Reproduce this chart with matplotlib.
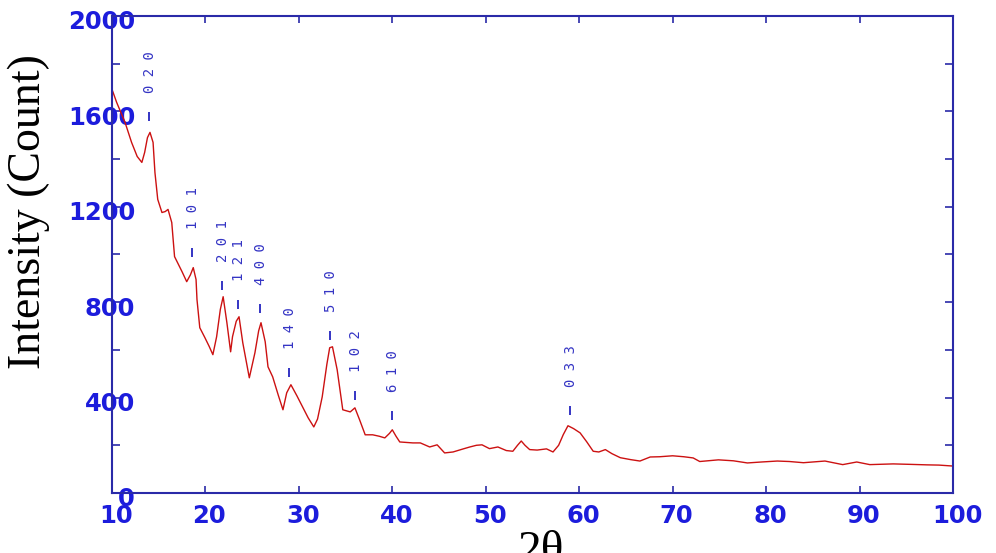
import numpy as np
import matplotlib
matplotlib.use('Agg')
import matplotlib.pyplot as plt
from matplotlib.transforms import ScaledTranslation

# XRD pattern
two_theta = [10.0, 10.5, 11.4, 12.1, 12.7, 13.2, 13.5, 13.8, 14.07, 14.4, 14.6, 14.9,
             15.35, 15.7, 16.0, 16.4, 16.7, 17.5, 18.0, 18.4, 18.7, 19.0, 19.1, 19.4,
             19.95, 20.4, 20.8, 21.2, 21.6, 21.9, 22.3, 22.7, 22.9, 23.3, 23.6, 24.0,
             24.7, 25.3, 25.7, 25.95, 26.4, 26.7, 27.2, 27.8, 28.3, 28.7, 29.15, 29.8,
             30.4, 31.0, 31.6, 32.0, 32.5, 33.0, 33.3, 33.6, 34.1, 34.7, 35.5, 36.0,
             36.5, 37.1, 37.9, 38.6, 39.2, 39.7, 40.0, 40.4, 40.8, 41.5, 42.2, 43.0,
             44.0, 44.8, 45.6, 46.5, 47.6, 48.3, 49.0, 49.6, 50.4, 51.3, 52.2, 52.9,
             53.4, 53.8, 54.2, 54.7, 55.5, 56.5, 57.2, 57.8, 58.3, 58.8, 59.4, 60.1,
             60.8, 61.5, 62.1, 62.8, 63.5, 64.4, 65.5, 66.5, 67.6, 68.6, 70.0, 71.2,
             72.2, 72.9, 74.9, 76.5, 78.0, 79.5, 81.2, 82.5, 84.0, 86.3, 88.2, 89.7,
             91.1, 93.6, 95.5, 97.2, 98.5, 100.0]
intensity = [1693, 1638, 1554, 1470, 1411, 1386, 1428, 1490, 1512, 1470, 1344, 1231,
             1176, 1180, 1189, 1134, 991, 928, 886, 915, 945, 895, 811, 693,
             651, 615, 580, 655, 770, 823, 714, 592, 655, 720, 739, 630,
             483, 588, 680, 714, 634, 529, 487, 410, 349, 420, 454, 407,
             361, 315, 277, 310, 403, 540, 609, 613, 517, 349, 340, 357,
             307, 244, 244, 238, 231, 250, 265, 238, 214, 212, 210, 210,
             193, 202, 168, 172, 185, 193, 200, 202, 186, 193, 178, 175,
             200, 218, 200, 182, 180, 185, 172, 200, 245, 282, 270, 252,
             215, 175, 172, 182, 165, 148, 140, 134, 151, 152, 156, 152,
             147, 132, 139, 135, 126, 130, 134, 132, 127, 134, 119, 130,
             119, 122, 120, 118, 117, 113]

# reflections: position, base of the marker, hkl
hkl_x = [14.0, 18.6, 21.8, 23.5, 25.8, 29.0, 33.3, 36.0, 40.0, 59.0]
hkl_y = [1560, 990, 850, 770, 755, 485, 640, 390, 305, 325]
hkl_labels = ['020', '101', '201', '121', '400', '140', '510', '102', '610', '033']

y_major = [0, 400, 800, 1200, 1600, 2000]
x_major = list(range(10, 101, 10))

spine_col = '#2a2aa8'
tick_col = '#1c1cdc'
line_col = '#cc1111'
hkl_col = '#3434c4'

fig = plt.figure(figsize=(9.96, 5.53), dpi=100)
ax = fig.add_axes([0.1124, 0.1085, 0.8444, 0.8626])

ax.plot(two_theta, intensity, color=line_col, lw=1.0)

# short marker above each reflection, then the rotated hkl
ax.vlines(hkl_x, hkl_y, [v + 38 for v in hkl_y], color=hkl_col, lw=1.4)
for xv, yv, lab in zip(hkl_x, hkl_y, hkl_labels):
    ax.annotate(' '.join(lab), xy=(xv, yv + 38), xytext=(1, 19), textcoords='offset pixels',
                rotation=90, ha='center', va='bottom',
                family='DejaVu Sans Mono', fontsize=10, color=hkl_col)

ax.set_xlim(10, 100)
ax.set_ylim(0, 2000)
ax.set_xticks(x_major)
ax.set_yticks(y_major)
ax.set_yticks(np.arange(200, 2000, 400), minor=True)

for s in ax.spines.values():
    s.set_color(spine_col)
    s.set_linewidth(1.5)

ax.tick_params(axis='both', which='both', direction='in', color=spine_col,
               top=True, right=True, width=1.2)
ax.tick_params(axis='x', which='major', length=5, pad=8)
ax.tick_params(axis='y', which='both', length=6, pad=-16.6)

for lbl in ax.get_xticklabels():
    lbl.set_transform(lbl.get_transform() + ScaledTranslation(4 / 100, 0, fig.dpi_scale_trans))
for lbl in ax.get_yticklabels():
    lbl.set_transform(lbl.get_transform() + ScaledTranslation(0, -4 / 100, fig.dpi_scale_trans))
for lbl in ax.get_xticklabels() + ax.get_yticklabels():
    lbl.set_fontfamily('DejaVu Sans')
    lbl.set_fontweight('bold')
    lbl.set_fontsize(17.5)
    lbl.set_color(tick_col)

fig.text(29 / 996, 1 - 212 / 553, 'Intensity (Count)', family='Liberation Serif', fontsize=33,
         color='black', rotation=90, ha='center', va='center')
fig.text(541 / 996, -0.018, '2θ', family='Liberation Serif', fontsize=34, color='black',
         ha='center', va='baseline')

fig.savefig('out.png', dpi=100)
